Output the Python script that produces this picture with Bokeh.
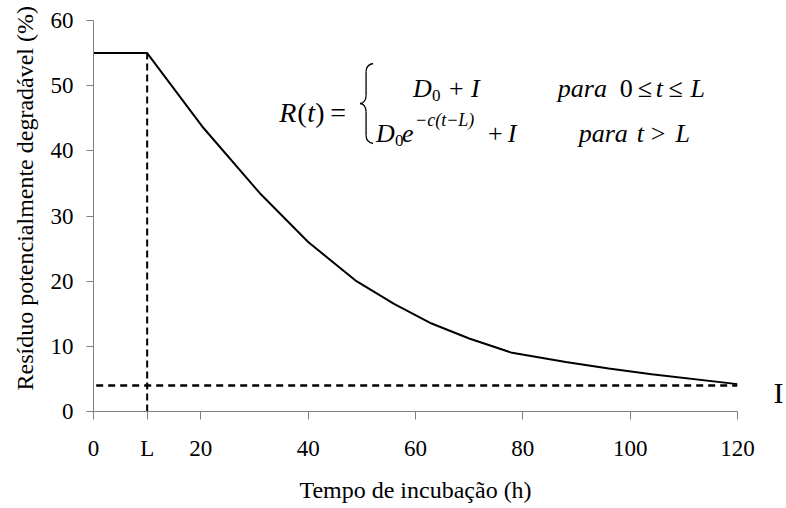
import math
from bokeh.plotting import figure
from bokeh.models import Range1d, Label, FixedTicker, LinearAxis, Title
from bokeh.embed import file_html
from bokeh.resources import INLINE

# ---- data ----
t_hours = [0, 10, 20.5, 31, 40, 49, 56, 63, 70, 78, 88, 96, 104, 120]
residue = [55, 55, 43.5, 33.5, 26, 20, 16.5, 13.5, 11.2, 9.0, 7.6, 6.6, 5.7, 4.2]
lag_L = 10
plateau = 55
inert_I = 4
x_ticks = [0, 10, 20, 40, 60, 80, 100, 120]
x_tick_labels = ["0", "L", "20", "40", "60", "80", "100", "120"]
y_ticks = [0, 10, 20, 30, 40, 50, 60]
i_mark_y = 2.9
x_title = "Tempo de incubação (h)"
y_title = "Resíduo potencialmente degradável (%)"

# ---- layout ----
W, H = 786, 508
FL, FR, FT, FB = 92, 737, 20, 411
XMAX, YMAX = 120, 60
FONT = "Liberation Serif"


def dx(px):
    return (px - FL) * XMAX / (FR - FL)


def dy(py):
    return (FB - py) * YMAX / (FB - FT)


p = figure(width=W, height=H, x_range=Range1d(0, XMAX), y_range=Range1d(0, YMAX),
           output_backend="svg", toolbar_location=None,
           min_border_left=FL, min_border_right=W - FR,
           min_border_top=FT, min_border_bottom=H - FB)
p.outline_line_color = None
p.grid.visible = False
p.background_fill_color = "white"

for ax, ticks, tout, stand in ((p.xaxis, x_ticks, 8, 16), (p.yaxis, y_ticks, 7, 13)):
    ax.ticker = FixedTicker(ticks=ticks)
    ax.axis_line_color = "#808080"
    ax.axis_line_width = 1
    ax.major_tick_line_color = "#808080"
    ax.major_tick_out = tout
    ax.major_tick_in = 0
    ax.minor_tick_line_color = None
    ax.major_label_text_font = FONT
    ax.major_label_text_font_size = "23px"
    ax.major_label_text_color = "black"
    ax.major_label_standoff = stand

p.xaxis.major_label_overrides = {t: s for t, s in zip(x_ticks, x_tick_labels)}
p.xaxis.axis_label = x_title
p.xaxis.axis_label_text_font = FONT
p.xaxis.axis_label_text_font_size = "24px"
p.xaxis.axis_label_text_font_style = "normal"
p.xaxis.axis_label_text_color = "black"
p.xaxis.axis_label_standoff = 13

# right-hand "I" marker as an axis label
rax = LinearAxis(ticker=FixedTicker(ticks=[i_mark_y]),
                 major_label_overrides={i_mark_y: "I"})
rax.axis_line_color = None
rax.major_tick_line_color = None
rax.minor_tick_line_color = None
rax.major_tick_out = 0
rax.major_tick_in = 0
rax.major_label_text_font = FONT
rax.major_label_text_font_size = "30px"
rax.major_label_text_color = "black"
rax.major_label_standoff = 36
p.add_layout(rax, "right")

# y title
p.add_layout(Title(text=y_title, align="left", offset=21, text_font=FONT,
                   text_font_size="24px", text_font_style="normal",
                   text_color="black", standoff=19), "left")

# curve and reference lines
p.line(t_hours, residue, line_color="black", line_width=2)
p.line([0.5, t_hours[-1]], [inert_I, inert_I], line_color="black", line_width=2.5, line_dash="7 5")
p.line([lag_L, lag_L], [0, plateau], line_color="black", line_width=2, line_dash="7 4")


def lab(text, px, py, size, italic=True, align="left"):
    p.add_layout(Label(x=dx(px), y=dy(py), text=text, text_font=FONT,
                       text_font_size=f"{size}px",
                       text_font_style="italic" if italic else "normal",
                       text_align=align, text_baseline="alphabetic",
                       text_color="black"))


# formula
lab("R", 278, 112, 28)
lab("(", 296, 112, 28, italic=False)
lab("t", 306, 112, 28)
lab(")", 314, 112, 28, italic=False)
lab("=", 329, 112, 28, italic=False)

# line 1
lab("D", 412, 88, 26)
lab("0", 431, 95, 17, italic=False)
lab("+", 448, 88, 26, italic=False)
lab("I", 470, 88, 26)
lab("para", 557, 88, 26)
lab("0", 619, 88, 26, italic=False)
lab("≤", 637, 88, 26, italic=False)
lab("t", 655, 88, 26)
lab("≤", 668, 88, 26, italic=False)
lab("L", 690, 88, 26)

# line 2
lab("D", 375, 133, 26)
lab("0", 394, 140, 17, italic=False)
lab("e", 401, 133, 26)
lab("−c(t−L)", 414, 119, 18)
lab("+", 487, 133, 26, italic=False)
lab("I", 507, 133, 26)
lab("para", 578, 133, 26)
lab("t", 636, 133, 26)
lab(">", 650, 133, 26, italic=False)
lab("L", 675, 133, 26)

# curly brace
bx0, bx1, bxm = 372, 365, 359
by0, bym, by1 = 63, 103, 143
p.bezier(x0=[dx(bx0), dx(bx1), dx(bxm), dx(bx1)],
         y0=[dy(by0), dy(bym - 8), dy(bym), dy(by1 - 8)],
         x1=[dx(bx1), dx(bxm), dx(bx1), dx(bx0)],
         y1=[dy(by0 + 8), dy(bym), dy(bym + 8), dy(by1)],
         cx0=[dx(367), dx(bx1), dx(362), dx(bx1)],
         cy0=[dy(by0 + 1), dy(bym - 3), dy(bym), dy(by1 - 3)],
         cx1=[dx(bx1), dx(362), dx(bx1), dx(367)],
         cy1=[dy(by0 + 3), dy(bym), dy(bym + 3), dy(by1 - 1)],
         line_color="black", line_width=1.3)
p.segment(x0=[dx(bx1), dx(bx1)], y0=[dy(by0 + 8), dy(bym + 8)],
          x1=[dx(bx1), dx(bx1)], y1=[dy(bym - 8), dy(by1 - 8)],
          line_color="black", line_width=1.3)

open("out.html", "w").write(file_html(p, INLINE))
